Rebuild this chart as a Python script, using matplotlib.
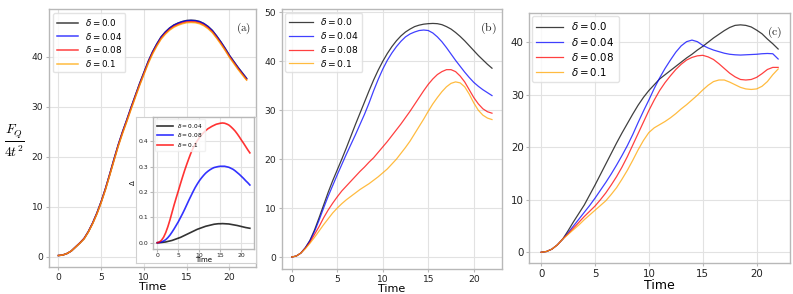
import matplotlib
matplotlib.use("Agg")
import matplotlib.pyplot as plt
import numpy as np

# ---------------- data ----------------
time = np.arange(0, 22.5, 0.5)   # sampling times 0, 0.5, ..., 22
labels = [r"$\delta = 0.0$", r"$\delta = 0.04$", r"$\delta = 0.08$", r"$\delta = 0.1$"]
inset_labels = [r"$\delta = 0.04$", r"$\delta = 0.08$", r"$\delta = 0.1$"]

# panel (a)
a_d000 = [0.2, 0.3, 0.6, 1.1, 1.9, 2.7, 3.6, 5.0, 6.7, 8.7, 11.0, 13.6, 16.5, 19.5, 22.4, 25.0, 27.4, 29.9, 32.3, 34.7,
          36.9, 39.1, 41.0, 42.6, 44.0, 45.0, 45.8, 46.4, 46.8, 47.1, 47.3, 47.35, 47.3, 47.1, 46.7, 46.1, 45.3, 44.2,
          43.0, 41.7, 40.3, 39.1, 37.9, 36.8, 35.7]
a_d004 = [0.2, 0.3, 0.6, 1.1, 1.9, 2.7, 3.6, 5.0, 6.7, 8.7, 11.0, 13.6, 16.5, 19.5, 22.4, 25.0, 27.4, 29.9, 32.25, 34.65,
          36.85, 39.05, 40.95, 42.55, 43.95, 44.95, 45.75, 46.35, 46.75, 47.05, 47.25, 47.3, 47.25, 47.05, 46.65, 46.05,
          45.25, 44.15, 42.95, 41.65, 40.25, 39.05, 37.85, 36.75, 35.65]
a_d008 = [0.2, 0.3, 0.6, 1.1, 1.9, 2.7, 3.6, 4.95, 6.65, 8.6, 10.9, 13.5, 16.4, 19.35, 22.25, 24.85, 27.2, 29.7, 32.1,
          34.45, 36.65, 38.85, 40.75, 42.3, 43.7, 44.7, 45.5, 46.1, 46.5, 46.8, 47.0, 47.05, 47.0, 46.8, 46.4, 45.8, 45.0,
          43.9, 42.7, 41.4, 40.05, 38.85, 37.65, 36.55, 35.45]
a_d010 = [0.2, 0.3, 0.6, 1.1, 1.85, 2.65, 3.5, 4.9, 6.55, 8.5, 10.8, 13.35, 16.25, 19.2, 22.1, 24.65, 27.05, 29.5, 31.9,
          34.3, 36.5, 38.65, 40.55, 42.15, 43.55, 44.55, 45.35, 45.95, 46.35, 46.65, 46.85, 46.9, 46.85, 46.65, 46.25,
          45.65, 44.85, 43.75, 42.55, 41.3, 39.9, 38.7, 37.5, 36.4, 35.35]

# inset of (a): Delta
ins_d004 = [0.0, 0.0003, 0.001, 0.002, 0.003, 0.005, 0.007, 0.009, 0.012, 0.015, 0.018, 0.021, 0.025, 0.029, 0.033,
            0.037, 0.041, 0.045, 0.049, 0.053, 0.056, 0.059, 0.062, 0.065, 0.067, 0.069, 0.071, 0.073, 0.074, 0.075,
            0.075, 0.0755, 0.075, 0.0745, 0.074, 0.0725, 0.071, 0.0695, 0.068, 0.066, 0.064, 0.062, 0.060, 0.0585, 0.057]
ins_d008 = [0.0, 0.001, 0.003, 0.007, 0.012, 0.020, 0.030, 0.042, 0.055, 0.069, 0.083, 0.099, 0.115, 0.132, 0.150,
            0.168, 0.185, 0.202, 0.218, 0.232, 0.245, 0.256, 0.266, 0.275, 0.282, 0.288, 0.293, 0.297, 0.299, 0.301,
            0.302, 0.302, 0.302, 0.300, 0.298, 0.294, 0.290, 0.284, 0.277, 0.270, 0.262, 0.254, 0.245, 0.237, 0.228]
ins_d010 = [0.0, 0.003, 0.010, 0.022, 0.040, 0.063, 0.090, 0.120, 0.150, 0.178, 0.205, 0.233, 0.260, 0.286, 0.310,
            0.333, 0.355, 0.374, 0.390, 0.403, 0.415, 0.426, 0.435, 0.443, 0.450, 0.455, 0.460, 0.464, 0.468, 0.470,
            0.472, 0.473, 0.472, 0.469, 0.465, 0.458, 0.450, 0.441, 0.430, 0.418, 0.405, 0.393, 0.380, 0.367, 0.355]

# panel (b)
b_d000 = [0.0, 0.2, 0.8, 1.9, 3.4, 5.5, 8.0, 10.6, 13.2, 15.6, 17.8, 20.0, 22.3, 24.7, 27.1, 29.4, 31.7, 34.0, 36.2,
          38.2, 40.0, 41.6, 43.0, 44.2, 45.2, 46.0, 46.6, 47.1, 47.4, 47.6, 47.7, 47.75, 47.7, 47.5, 47.1, 46.6, 45.9,
          45.1, 44.2, 43.2, 42.2, 41.2, 40.3, 39.4, 38.6]
b_d004 = [0.0, 0.2, 0.8, 1.9, 3.3, 5.2, 7.5, 10.0, 12.4, 14.6, 16.8, 18.9, 21.0, 23.0, 25.0, 27.1, 29.2, 31.5, 34.0,
          36.3, 38.4, 40.2, 41.7, 43.0, 44.1, 45.0, 45.6, 46.0, 46.3, 46.4, 46.3, 45.8, 45.0, 44.0, 42.8, 41.5, 40.2,
          39.0, 37.8, 36.7, 35.7, 34.9, 34.2, 33.6, 33.0]
b_d008 = [0.0, 0.2, 0.8, 1.8, 3.0, 4.6, 6.2, 8.0, 9.6, 11.0, 12.3, 13.5, 14.5, 15.5, 16.5, 17.5, 18.4, 19.4, 20.3, 21.4,
          22.5, 23.6, 24.8, 26.0, 27.2, 28.5, 29.8, 31.2, 32.6, 34.0, 35.3, 36.4, 37.3, 37.9, 38.3, 38.3, 37.9, 37.0,
          35.8, 34.2, 32.6, 31.3, 30.3, 29.7, 29.4]
b_d010 = [0.0, 0.2, 0.8, 1.7, 2.8, 4.0, 5.3, 6.6, 7.8, 9.0, 10.0, 10.9, 11.7, 12.4, 13.1, 13.8, 14.4, 15.0, 15.7, 16.4,
          17.2, 18.0, 19.0, 20.0, 21.2, 22.4, 23.7, 25.2, 26.7, 28.2, 29.8, 31.3, 32.6, 33.8, 34.8, 35.5, 35.8, 35.6,
          34.8, 33.3, 31.5, 30.0, 29.0, 28.4, 28.1]

# panel (c)
c_d000 = [0.0, 0.15, 0.6, 1.4, 2.5, 4.1, 5.8, 7.4, 9.0, 10.9, 12.8, 14.8, 16.8, 18.8, 20.8, 22.7, 24.5, 26.3, 28.0,
          29.5, 30.8, 31.9, 33.0, 33.8, 34.6, 35.4, 36.2, 37.0, 37.7, 38.5, 39.2, 40.0, 40.8, 41.5, 42.2, 42.8, 43.2,
          43.3, 43.2, 42.9, 42.3, 41.6, 40.6, 39.7, 38.7]
c_d004 = [0.0, 0.15, 0.6, 1.4, 2.5, 3.7, 5.0, 6.3, 7.6, 8.9, 10.3, 11.8, 13.3, 14.9, 16.6, 18.4, 20.3, 22.4, 24.7, 26.9,
          29.0, 31.2, 33.2, 35.0, 36.6, 38.1, 39.3, 40.1, 40.4, 40.1, 39.4, 38.9, 38.5, 38.2, 37.9, 37.7, 37.6, 37.55,
          37.6, 37.65, 37.7, 37.8, 37.85, 37.8, 36.8]
c_d008 = [0.0, 0.15, 0.6, 1.4, 2.5, 3.5, 4.6, 5.7, 6.8, 7.8, 8.8, 10.0, 11.3, 12.8, 14.4, 16.2, 18.2, 20.4, 22.6, 24.8,
          27.0, 29.0, 30.8, 32.3, 33.6, 34.8, 35.8, 36.6, 37.1, 37.4, 37.5, 37.2, 36.7, 35.9, 35.0, 34.1, 33.4, 32.9,
          32.8, 32.9, 33.3, 34.0, 34.8, 35.2, 35.2]
c_d010 = [0.0, 0.15, 0.6, 1.4, 2.5, 3.4, 4.3, 5.2, 6.2, 7.1, 8.0, 8.9, 9.8, 11.0, 12.3, 13.9, 15.6, 17.5, 19.5, 21.3,
          22.8, 23.7, 24.3, 24.9, 25.6, 26.4, 27.3, 28.1, 29.0, 29.9, 30.9, 31.8, 32.5, 32.8, 32.8, 32.4, 31.9, 31.4,
          31.1, 31.0, 31.1, 31.6, 32.5, 33.8, 34.9]

colors = ["black", "blue", "red", "orange"]
inset_colors = ["black", "blue", "red"]

# ---------------- style ----------------
W, H = 793, 294
fig = plt.figure(figsize=(W / 100, H / 100), dpi=100)
fig.patch.set_facecolor("white")

SPINE = "#b8b8b8"
GRID = "#e2e2e2"


def px_axes(x0, y0, x1, y1, **kw):
    return fig.add_axes([x0 / W, 1 - y1 / H, (x1 - x0) / W, (y1 - y0) / H], **kw)


def style(ax, tick_fs, length=2.5, pad=1.5):
    for s in ax.spines.values():
        s.set_color(SPINE)
        s.set_linewidth(1.0)
    ax.grid(True, color=GRID, linewidth=0.8)
    ax.set_axisbelow(True)
    ax.tick_params(labelcolor="#222222", labelsize=tick_fs, length=length, width=0.8,
                   pad=pad, color=SPINE)
    ax.set_xticks([0, 5, 10, 15, 20])


def panel_label(ax, txt, fs):
    ax.text(0.94, 0.955, r"$(\mathrm{%s})$" % txt, transform=ax.transAxes,
            ha="center", va="top", fontsize=fs, math_fontfamily="cm", color="#222222")


# panel (a)
axa = px_axes(49, 9, 256, 267)
style(axa, 6.6)
for ys, c, lab in zip([a_d000, a_d004, a_d008, a_d010], colors, labels):
    axa.plot(time, ys, color=c, lw=1.1, alpha=0.75, label=lab)
axa.set_xlim(-1.1, 23.1)
axa.set_ylim(-2.1, 49.6)
axa.set_yticks([0, 10, 20, 30, 40])
axa.set_xlabel("Time", fontsize=8.0, labelpad=0)
axa.set_ylabel(r"$\frac{F_Q}{4t^2}$", fontsize=14, rotation=0, math_fontfamily="cm", va="center")
axa.yaxis.set_label_coords(-0.165, 0.49)
axa.legend(loc="upper left", fontsize=6.3, frameon=True, handlelength=2.4,
           borderaxespad=0.5, labelspacing=0.3, edgecolor="#dddddd")
panel_label(axa, "a", 8)

# inset background box
bg = px_axes(136, 117, 256, 263)
bg.set_facecolor("white")
bg.set_xticks([])
bg.set_yticks([])
for s in bg.spines.values():
    s.set_color("#d0d0d0")
    s.set_linewidth(0.8)
bg.set_zorder(5)

axi = px_axes(152.7, 117, 254.5, 248.7)
axi.set_zorder(6)
style(axi, 4.4, length=2, pad=1.2)
for ys, c, lab in zip([ins_d004, ins_d008, ins_d010], inset_colors, inset_labels):
    axi.plot(time, ys, color=c, lw=1.2, alpha=0.8, label=lab)
axi.set_xlim(-1.1, 23.1)
axi.set_yticks([0.0, 0.1, 0.2, 0.3, 0.4])
axi.set_xlabel("Time", fontsize=5, labelpad=-0.5)
axi.set_ylabel(r"$\Delta$", fontsize=5, labelpad=1)
axi.legend(loc="upper left", fontsize=4.2, frameon=True, handlelength=2.6,
           borderaxespad=0.4, labelspacing=0.25, edgecolor="#eeeeee")

# panel (b)
axb = px_axes(281.7, 9, 502, 269)
style(axb, 6.6)
for ys, c, lab in zip([b_d000, b_d004, b_d008, b_d010], colors, labels):
    axb.plot(time, ys, color=c, lw=0.9, alpha=0.75, label=lab)
axb.set_xlim(-1.1, 23.1)
axb.set_ylim(-2.45, 50.7)
axb.set_yticks([0, 10, 20, 30, 40, 50])
axb.set_xlabel("Time", fontsize=8.0, labelpad=0)
axb.legend(loc="upper left", fontsize=6.6, frameon=True, handlelength=2.6,
           borderaxespad=0.4, labelspacing=0.3, edgecolor="#dddddd")
panel_label(axb, "b", 8.5)

# panel (c)
axc = px_axes(529.3, 13.3, 790, 263.3)
style(axc, 7.4)
for ys, c, lab in zip([c_d000, c_d004, c_d008, c_d010], colors, labels):
    axc.plot(time, ys, color=c, lw=0.9, alpha=0.75, label=lab)
axc.set_xlim(-1.1, 23.1)
axc.set_ylim(-2.1, 45.5)
axc.set_yticks([0, 10, 20, 30, 40])
axc.set_xlabel("Time", fontsize=9.0, labelpad=0)
axc.legend(loc="upper left", fontsize=7.4, frameon=True, handlelength=2.6,
           borderaxespad=0.3, labelspacing=0.3, edgecolor="#dddddd")
panel_label(axc, "c", 8.5)

fig.savefig("out.png", dpi=100, facecolor="white")
